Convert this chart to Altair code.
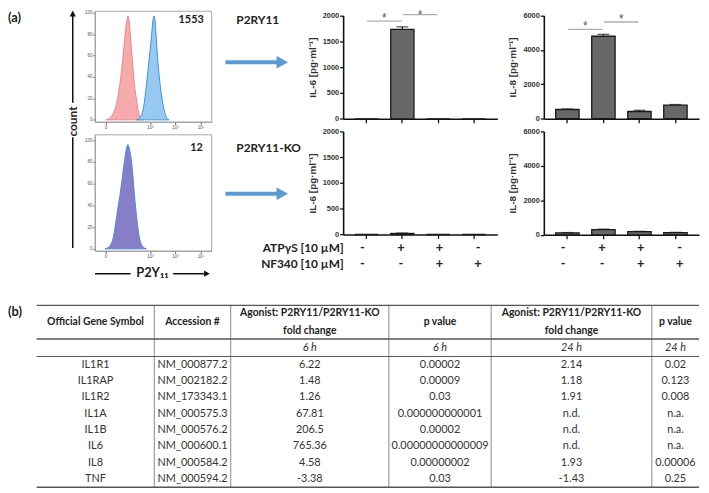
import altair as alt
import pandas as pd

W, H = 701, 485
def px(x): return x - 8
def py(y): return y - 8

FONT = "Lato"
AFONT = "Liberation Sans"

# ---------------- data ----------------
# flow cytometry histograms (fluorescence, % of max)
ctrl_fl = [0.5, 6, 14, 24, 33, 47, 62, 75, 88, 104, 119, 134, 152, 173, 196, 232, 289, 340, 400, 494]
ctrl_cnt = [0, 1, 4, 10, 17, 32, 50, 65, 80, 92, 97, 93, 80, 65, 50, 32, 17, 7, 2, 0]
p2ry_fl = [281, 373, 494, 595, 715, 860, 1004, 1162, 1296, 1446, 1584, 1733, 1915, 2136, 2560, 3152, 3843, 4603, 5762]
p2ry_cnt = [0, 2, 7, 17, 32, 50, 65, 80, 92, 97, 93, 80, 65, 50, 32, 17, 7, 2, 0]
ko_fl = [-1, 4, 11, 18, 26, 36, 51, 67, 84, 104, 119, 134, 168, 196, 225, 263, 309, 373, 450, 568, 715]
ko_cnt = [0, 1, 4, 10, 22, 36, 52, 68, 82, 93, 96, 93, 82, 68, 52, 36, 22, 10, 4, 1, 0]
mfi_labels = ["1553", "12"]
cell_labels = ["P2RY11", "P2RY11-KO"]

# ELISA bars
conditions = ["c1", "c2", "c3", "c4"]
treat_names = ["ATPγS [10 µM]", "NF340 [10 µM]"]
atp = ["-", "+", "+", "-"]
nf340 = ["-", "-", "+", "+"]
il6_wt = [0, 1730, 0, 0]
il6_wt_err = [0, 50, 0, 0]
il6_ko = [0, 20, 0, 0]
il6_ko_err = [0, 8, 0, 0]
il8_wt = [535, 4790, 420, 790]
il8_wt_err = [30, 110, 70, 35]
il8_ko = [110, 300, 180, 120]
il8_ko_err = [20, 30, 20, 20]
il6_sig = {"a": ["c1", "c2"], "ly": [1890, 2015], "sy": [1945, 2010]}
il8_sig = {"a": ["c1", "c2"], "ly": [5190, 5620], "sy": [5390, 5790]}

# table
headers = ["Official Gene Symbol", "Accession #", "Agonist: P2RY11/P2RY11-KO\nfold change",
           "p value", "Agonist: P2RY11/P2RY11-KO\nfold change", "p value"]
time_row = ["", "", "6 h", "6 h", "24 h", "24 h"]
genes = ["IL1R1", "IL1RAP", "IL1R2", "IL1A", "IL1B", "IL6", "IL8", "TNF"]
accession = ["NM_000877.2", "NM_002182.2", "NM_173343.1", "NM_000575.3", "NM_000576.2",
             "NM_000600.1", "NM_000584.2", "NM_000594.2"]
fc_6h = ["6.22", "1.48", "1.26", "67.81", "206.5", "765.36", "4.58", "-3.38"]
p_6h = ["0.00002", "0.00009", "0.03", "0.000000000001", "0.00002", "0.00000000000009",
        "0.00000002", "0.03"]
fc_24h = ["2.14", "1.18", "1.91", "n.d.", "n.d.", "n.d.", "1.93", "-1.43"]
p_24h = ["0.02", "0.123", "0.008", "n.a.", "n.a.", "n.a.", "0.00006", "0.25"]

one = pd.DataFrame({"a": [0]})

# ---------------- helpers ----------------
def text_at(t, x, y, size, weight="bold", align="center", angle=0, color="#222", font=FONT):
    return alt.Chart(pd.DataFrame({"t": [t]})).mark_text(
        fontSize=size, fontWeight=weight, align=align, baseline="middle", angle=angle,
        color=color, font=font
    ).encode(x=alt.value(px(x)), y=alt.value(py(y)), text="t:N")

def seg(x1, y1, x2, y2, color="#111", w=1.5):
    return alt.Chart(one).mark_rule(color=color, strokeWidth=w).encode(
        x=alt.value(px(x1)), y=alt.value(py(y1)), x2=alt.value(px(x2)), y2=alt.value(py(y2)))

def head(x, y, path, size, color="#111"):
    return alt.Chart(one).mark_point(shape=path, filled=True, size=size, color=color, opacity=1,
                                     strokeWidth=0).encode(x=alt.value(px(x)), y=alt.value(py(y)))

HX_DOM = [-29, 274000]

def hist_panel(series, x0, x1, y_top, y_bot, dom_y):
    xs = alt.Scale(type="symlog", constant=18, domain=HX_DOM, range=[px(x0), px(x1)])
    ys = alt.Scale(domain=dom_y, range=[py(y_bot), py(y_top)], nice=False, zero=False)
    xax = alt.Axis(orient="bottom", offset=py(y_bot) - H, values=[0, 1000, 10000, 100000],
                   labelExpr="datum.value == 0 ? '0' : datum.value == 1000 ? '10³' : datum.value == 10000 ? '10⁴' : '10⁵'",
                   title=None, grid=False, tickSize=2, labelFontSize=4.5, labelColor="#555",
                   labelFont=AFONT, domainColor="#a0a0a0", tickColor="#444", labelPadding=1,
                   labelFlush=False, labelOverlap=False)
    yax = alt.Axis(orient="left", offset=-px(x0), values=[0, 20, 40, 60, 80, 100], title=None,
                   grid=False, tickSize=2, labelFontSize=4.5, labelColor="#555", labelFont=AFONT,
                   domainColor="#a0a0a0", tickColor="#444", labelPadding=1, labelFlush=False)
    parts = []
    for fl, cnt, fill, stroke in series:
        df = pd.DataFrame({"fl": fl, "n": cnt})
        parts.append(alt.Chart(df).mark_area(fill=fill, stroke=stroke, strokeWidth=1,
                                             interpolate="monotone", fillOpacity=0.9).encode(
            x=alt.X("fl:Q", scale=xs, axis=xax), y=alt.Y("n:Q", scale=ys, axis=yax)))
    parts.append(alt.Chart(one).mark_rect(fillOpacity=0, stroke="#a8a8a8", strokeWidth=1).encode(
        x=alt.XDatum(HX_DOM[0], scale=xs, axis=xax), x2=alt.X2Datum(HX_DOM[1]),
        y=alt.YDatum(dom_y[0], scale=ys, axis=yax), y2=alt.Y2Datum(dom_y[1])))
    return alt.layer(*parts)

def band_scale(x0, x1):
    return alt.Scale(domain=conditions, range=[px(x0), px(x1)], paddingInner=0.35, paddingOuter=0.33)

def bar_panel(vals, errs, ymax, step, x0, x1, y0_img, ytop_img, title, sig):
    df = pd.DataFrame({"cond": conditions, "v": vals, "e": errs})
    df["hi"] = df["v"] + df["e"]
    xs = band_scale(x0, x1)
    ys = alt.Scale(domain=[0, ymax], range=[py(y0_img), py(ytop_img)], nice=False, zero=False)
    xax = alt.Axis(orient="bottom", offset=py(y0_img) - H, labels=False, title=None, tickSize=4,
                   tickWidth=1.3, domainWidth=1.6, domainColor="#111", tickColor="#111", grid=False)
    yax = alt.Axis(orient="left", offset=-px(x0), values=list(range(0, ymax + 1, step)), title=title,
                   format="d", titleFont=AFONT, titleFontSize=10, titleFontWeight="bold",
                   titleColor="#333", titlePadding=5, labelFont=AFONT, labelFontSize=7.5,
                   labelFontWeight="bold", labelColor="#333", labelPadding=1, tickSize=3.5,
                   tickWidth=1.3, domainWidth=1.6, domainColor="#111", tickColor="#111",
                   grid=False, labelFlush=False)
    X = alt.X("cond:N", scale=xs, axis=xax, sort=conditions)
    base = alt.Chart(df)
    parts = [
        base.mark_bar(fill="#686868", stroke="#1a1a1a", strokeWidth=1.3).encode(
            x=X, y=alt.Y("v:Q", scale=ys, axis=yax)),
        base.transform_filter("datum.e > 0").mark_rule(color="#1a1a1a", strokeWidth=1.3).encode(
            x=X, y=alt.Y("v:Q", scale=ys, axis=yax), y2="hi:Q"),
        base.transform_filter("datum.e > 0").mark_tick(color="#1a1a1a", thickness=1.3, size=12).encode(
            x=X, y=alt.Y("hi:Q", scale=ys, axis=yax)),
    ]
    if sig:
        sdf = pd.DataFrame(sig)
        sX = alt.X("a:N", scale=xs, axis=xax, sort=conditions)
        parts.append(alt.Chart(sdf).mark_tick(color="#8c8c8c", thickness=1.4, size=35, xOffset=18).encode(
            x=sX, y=alt.Y("ly:Q", scale=ys, axis=yax)))
        parts.append(alt.Chart(sdf).mark_text(text="*", dx=18, fontSize=12, font=AFONT,
                                              color="#555", baseline="middle").encode(
            x=sX, y=alt.Y("sy:Q", scale=ys, axis=yax)))
    return alt.layer(*parts)

def treat_layer(x0, x1, with_labels):
    rows = []
    for i, c in enumerate(conditions):
        rows.append({"cond": c, "row": treat_names[0], "s": atp[i]})
        rows.append({"cond": c, "row": treat_names[1], "s": nf340[i]})
    df = pd.DataFrame(rows)
    ys = alt.Scale(type="point", domain=treat_names, range=[py(248), py(264)], padding=0)
    if with_labels:
        yax = alt.Axis(orient="left", offset=-px(349), domain=False, ticks=False, title=None,
                       labelFont=FONT, labelFontSize=12, labelFontWeight="bold", labelColor="#222",
                       labelPadding=2, grid=False)
    else:
        yax = None
    return alt.Chart(df).mark_text(font=FONT, fontSize=13, fontWeight="bold", color="#222").encode(
        x=alt.X("cond:N", scale=band_scale(x0, x1), axis=None, sort=conditions),
        y=alt.Y("row:N", scale=ys, axis=yax),
        text="s:N")

def table_layer():
    tx = alt.Scale(domain=list(range(7)), range=[px(v) for v in [37, 156, 233.3, 393.3, 496.7, 659.3, 707]],
                   nice=False, zero=False)
    ty = alt.Scale(domain=[0, 1, 2, 10], range=[py(v) for v in [306, 340, 357.7, 490]],
                   nice=False, zero=False)
    h1 = [(i + 0.5, t) for i, t in enumerate(headers) if "\n" not in t]
    h2 = [(i + 0.5, t) for i, t in enumerate(headers) if "\n" in t]
    h1df = pd.DataFrame({"c": [a for a, _ in h1], "r": 0.5, "t": [b for _, b in h1]})
    h2df = pd.DataFrame({"c": [a for a, _ in h2], "r": 0.5, "t": [b for _, b in h2]})
    tdf = pd.DataFrame({"c": [i + 0.5 for i in range(6)], "r": 1.5, "t": time_row})
    rows = []
    for ci, col in enumerate([genes, accession, fc_6h, p_6h, fc_24h, p_24h]):
        for ri, v in enumerate(col):
            rows.append({"c": ci + 0.5, "r": ri + 2.5, "t": v})
    bdf = pd.DataFrame(rows)
    hl = pd.DataFrame({"y": [0, 1, 2, 10], "x0": 0, "x1": 6, "w": [1.4, 1.4, 1.0, 1.4]})
    vl = pd.DataFrame({"x": [1, 2, 3, 4, 5], "y0": 0, "y1": 10})
    Xc = alt.X("c:Q", scale=tx, axis=None)
    Yr = alt.Y("r:Q", scale=ty, axis=None)
    parts = [
        alt.Chart(vl).mark_rule(color="#8a8a8a", strokeWidth=1).encode(
            x=alt.X("x:Q", scale=tx, axis=None), y=alt.Y("y0:Q", scale=ty, axis=None), y2="y1:Q"),
        alt.Chart(hl).mark_rule(color="#555").encode(
            x=alt.X("x0:Q", scale=tx, axis=None), x2="x1:Q", y=alt.Y("y:Q", scale=ty, axis=None),
            strokeWidth=alt.StrokeWidth("w:Q", scale=None)),
        alt.Chart(h1df).mark_text(font=FONT, fontSize=10.5, fontWeight="bold", color="#222",
                                  baseline="middle").encode(x=Xc, y=Yr, text="t:N"),
        alt.Chart(h2df).mark_text(font=FONT, fontSize=10.5, fontWeight="bold", color="#222",
                                  lineBreak="\n", lineHeight=18, baseline="middle", dy=-9).encode(
            x=Xc, y=Yr, text="t:N"),
        alt.Chart(tdf).mark_text(font=FONT, fontSize=11, fontStyle="italic", color="#333",
                                 baseline="middle").encode(x=Xc, y=Yr, text="t:N"),
        alt.Chart(bdf).mark_text(font=FONT, fontSize=11, color="#333", baseline="middle").encode(
            x=Xc, y=Yr, text="t:N"),
    ]
    return alt.layer(*parts)

# ---------------- assemble ----------------
RIGHT_HEAD = "M-0.85,-1L1,0L-0.85,1Z"
UP_HEAD = "M-1,0.85L0,-1L1,0.85Z"
BLUE = "#5b9bd5"

layers = [
    table_layer(),
    hist_panel([(ctrl_fl, ctrl_cnt, "#f4a1a3", "#ef8487"), (p2ry_fl, p2ry_cnt, "#8dc4ef", "#3f8fdb")],
               96, 214, 8.5, 120.5, [-2, 101.4]),
    hist_panel([(ko_fl, ko_cnt, "#7b70c2", "#4a86dc")], 96, 214, 133.5, 251, [-2, 105]),
    bar_panel(il6_wt, il6_wt_err, 2000, 500, 347, 503, 117.3, 12.7, "IL-6 [pg·ml⁻¹]", il6_sig),
    bar_panel(il8_wt, il8_wt_err, 6000, 2000, 550, 707, 117.2, 12.7, "IL-8 [pg·ml⁻¹]", il8_sig),
    bar_panel(il6_ko, il6_ko_err, 2000, 500, 347, 503, 234.3, 130, "IL-6 [pg·ml⁻¹]", None),
    bar_panel(il8_ko, il8_ko_err, 6000, 2000, 550, 707, 234.6, 130, "IL-8 [pg·ml⁻¹]", None),
    treat_layer(347, 503, True),
    treat_layer(550, 707, False),
    text_at("(a)", 8, 15, 13, align="left"),
    text_at("(b)", 8, 313, 13, align="left"),
    text_at(mfi_labels[0], 206, 17, 11, align="right"),
    text_at(mfi_labels[1], 205, 147, 11, align="right"),
    text_at(cell_labels[0], 239, 17, 12, align="left"),
    text_at(cell_labels[1], 239, 147, 12, align="left"),
    text_at("count", 74, 120, 12, angle=270),
    text_at("P2Y₁₁", 154, 273, 13),
    seg(73.5, 13, 73.5, 101, w=1.5),
    head(73.5, 11, UP_HEAD, 40),
    seg(73.5, 136, 73.5, 248, w=1.5),
    seg(96, 274, 132, 274, w=1.5),
    seg(175, 274, 207, 274, w=1.5),
    head(209, 274, RIGHT_HEAD, 40),
    seg(228, 60, 286, 60, color=BLUE, w=4),
    head(285, 60, RIGHT_HEAD, 160, color=BLUE),
    seg(228, 193, 286, 193, color=BLUE, w=4),
    head(285, 193, RIGHT_HEAD, 160, color=BLUE),
]

chart = alt.layer(*layers).resolve_scale(x="independent", y="independent").properties(
    width=W, height=H, padding=0, autosize="none"
).configure_view(stroke=None)

chart.save("out.html", embed_options={"renderer": "svg", "actions": False})
